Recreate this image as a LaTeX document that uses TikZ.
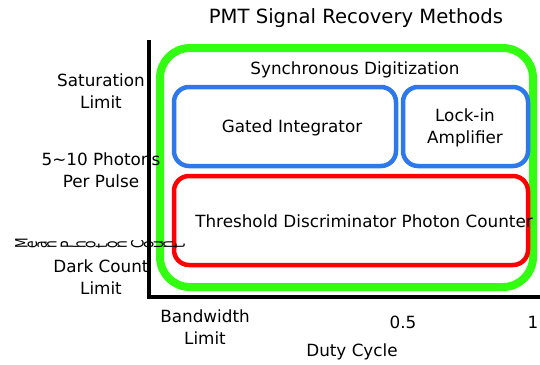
\documentclass[tikz,border=0pt]{standalone}
\usepackage{fontspec}
\setmainfont{DejaVu Sans}
\definecolor{syncgreen}{RGB}{51,255,17}
\definecolor{boxblue}{RGB}{45,120,235}
\definecolor{boxred}{RGB}{255,0,0}

% letters set on their side, one after another
\def\sidewaysword#1{\sidewaysloop#1\relax}
\def\sidewaysloop#1{\ifx#1\relax\else\rotatebox{90}{#1}\expandafter\sidewaysloop\fi}

\begin{document}
\begin{tikzpicture}[
    x=1pt, y=-1pt,
    every node/.style={font=\fontsize{16.8}{22}\selectfont, inner sep=0pt},
    ticklab/.style={align=center},
    method/.style={rounded corners=15pt, line width=4.5pt}
]
\useasboundingbox (0,0) rectangle (540,364);

% --- outer region: synchronous digitization
\draw[syncgreen, line width=8pt, rounded corners=30pt] (160,48) rectangle (533,287);

% --- method boxes
\draw[method, boxblue] (174,87) rectangle (396,166);
\draw[method, boxblue] (403,87) rectangle (528,166);
\draw[method, boxred] (174,176) rectangle (528,265);

% --- axes
\coordinate (ytop) at (149,40);
\coordinate (origin) at (149,297);
\coordinate (xend) at (540,297);
\draw[line width=4pt] (ytop) -- (origin) -- (xend);

% Title and box labels
\node[font=\fontsize{19.6}{24}\selectfont] (title) at (356,18) {PMT Signal Recovery Methods};
\node (sync) at (355,70) {Synchronous Digitization};
\node (gated) at (292,128) {Gated Integrator};
\node[align=center] (lockin) at (465,128) {Lock-in\\Amplifier};
\node (thresh) at (364,221) {Threshold Discriminator Photon Counter};

% Y tick labels
\foreach \y/\nm/\lab in {%
    91/sat/{Saturation\\Limit},
    170/ppp/{5\textasciitilde10 Photons\\Per Pulse},
    277/dark/{Dark Count\\Limit}}
  \node[ticklab] (\nm) at (101,\y) {\lab};

% X tick labels
\foreach \x/\y/\nm/\lab in {205/327/bw/{Bandwidth\\Limit}, 403/322/half/0.5, 533/322/full/1}
  \node[ticklab] (\nm) at (\x,\y) {\lab};

% Axis titles
\node (xtitle) at (352,352) {Duty Cycle};
\node[font=\fontsize{17}{18}\selectfont] (ytitle) at (100,243) {%
  \scalebox{1}[0.72]{\sidewaysword{Mean}\hspace{4pt}\sidewaysword{Photon}\hspace{4pt}\sidewaysword{Count}}};
\end{tikzpicture}
\end{document}
